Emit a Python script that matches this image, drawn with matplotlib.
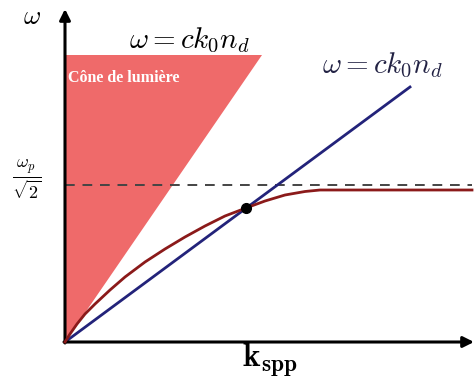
import numpy as np
import matplotlib.pyplot as plt

plt.rcParams['mathtext.fontset'] = 'cm'

# light cone  omega = c k0 n_d  (filled triangle)
cone_k = [0.0, 0.0, 1.97]
cone_w = [0.0, 2.87, 2.87]

# light line in the dielectric
line_k = [0.0, 3.45]
line_w = [0.0, 2.55]

# SPP dispersion curve (read points)
spp_k = [0.0, 0.05, 0.12, 0.20, 0.30, 0.45, 0.60, 0.80, 1.00, 1.20, 1.40,
         1.60, 1.81, 2.00, 2.20, 2.40, 2.55, 4.07]
spp_w = [0.0, 0.08, 0.18, 0.28, 0.38, 0.52, 0.65, 0.80, 0.93, 1.05, 1.16,
         1.26, 1.34, 1.41, 1.47, 1.505, 1.52, 1.52]

# asymptote omega_p / sqrt(2)
w_asym = 1.57
k_end = 4.07

# intersection of the SPP curve with the light line
dot_k, dot_w = 1.81, 1.34

fig = plt.figure(figsize=(4.77, 3.85), dpi=100)
ax = fig.add_axes([0, 0, 1, 1])
ax.set_xlim(-0.65, 4.12)
ax.set_ylim(-0.43, 3.42)
ax.axis('off')

ax.fill(cone_k, cone_w, color='#ef6a6a', lw=0, zorder=1)
ax.plot(line_k, line_w, color='#23237a', lw=2, zorder=3)
ax.plot([0, k_end], [w_asym, w_asym], '--', color='#444444', lw=1.4,
        dashes=(5, 4), zorder=2)
ax.plot(spp_k, spp_w, color='#8b1a1a', lw=2, zorder=4)
ax.plot(dot_k, dot_w, 'o', color='black', ms=7, zorder=5)

# axes with arrow heads
ax.annotate('', xy=(4.09, 0), xytext=(-0.01, 0),
            arrowprops=dict(arrowstyle='-|>', color='black', lw=2.2,
                            mutation_scale=16, shrinkA=0, shrinkB=0))
ax.annotate('', xy=(0, 3.33), xytext=(0, -0.01),
            arrowprops=dict(arrowstyle='-|>', color='black', lw=2.2,
                            mutation_scale=16, shrinkA=0, shrinkB=0))

ax.text(-0.33, 3.25, r'$\omega$', fontsize=19, ha='center', va='center')
ax.text(1.24, 3.02, r'$\omega = ck_0n_d$', fontsize=21, ha='center', va='center')
ax.text(2.57, 2.77, r'$\omega = ck_0n_d$', fontsize=21, ha='left', va='center',
        color='#222244')
ax.text(0.03, 2.64, 'Cône de lumière', fontsize=11.5, color='white',
        family='Liberation Serif', weight='bold', ha='left', va='center')
ax.text(-0.38, 1.62, r'$\frac{\omega_p}{\sqrt{2}}$', fontsize=18.5,
        ha='center', va='center')
ax.text(2.05, -0.19, r'$\mathbf{k_{spp}}$', fontsize=24, ha='center', va='center')

plt.savefig('out.png', dpi=100)
plt.close()
